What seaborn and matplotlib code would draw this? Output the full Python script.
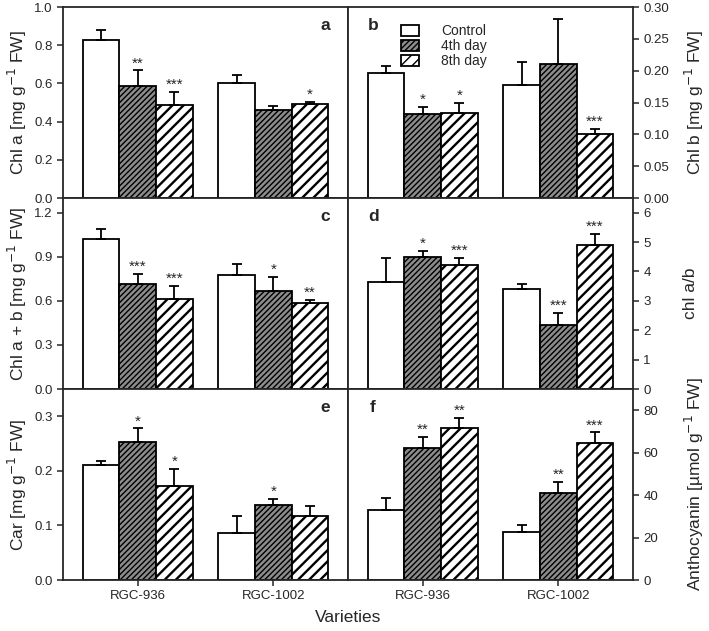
import pandas as pd
import seaborn as sns
import numpy as np
import matplotlib
matplotlib.use("Agg")
import matplotlib.pylab as plt

## Data (order: RGC-936 C/4/8, RGC-1002 C/4/8)
varieties = ["RGC-936", "RGC-1002"]
treatments = ["Control", "4th day", "8th day"]

chl_a_mean = [0.826, 0.589, 0.485, 0.603, 0.461, 0.490]
chl_a_err = [0.056, 0.079, 0.070, 0.042, 0.020, 0.014]
chl_a_sig = ["", "**", "***", "", "", "*"]

chl_b_mean = [0.197, 0.1325, 0.134, 0.177, 0.211, 0.1006]
chl_b_err = [0.010, 0.011, 0.015, 0.036, 0.070, 0.0075]
chl_b_sig = ["", "*", "*", "", "", "***"]

chl_ab_mean = [1.020, 0.716, 0.611, 0.777, 0.668, 0.586]
chl_ab_err = [0.066, 0.070, 0.093, 0.073, 0.093, 0.023]
chl_ab_sig = ["", "***", "***", "", "*", "**"]

ratio_mean = [3.64, 4.48, 4.23, 3.42, 2.18, 4.91]
ratio_err = [0.81, 0.22, 0.22, 0.17, 0.41, 0.38]
ratio_sig = ["", "*", "***", "", "***", "***"]

car_mean = [0.210, 0.252, 0.172, 0.086, 0.138, 0.118]
car_err = [0.008, 0.026, 0.032, 0.032, 0.010, 0.017]
car_sig = ["", "*", "*", "", "*", ""]

anth_mean = [32.9, 62.1, 71.5, 22.7, 40.9, 64.5]
anth_err = [5.7, 5.3, 5.0, 3.0, 5.4, 5.1]
anth_sig = ["", "**", "**", "", "**", "***"]

panels = [
    ("a", chl_a_mean, chl_a_err, chl_a_sig, "Chl a [mg g$^{-1}$ FW]", 1.0, np.arange(0, 1.01, 0.2), "{:.1f}"),
    ("b", chl_b_mean, chl_b_err, chl_b_sig, "Chl b [mg g$^{-1}$ FW]", 0.30, np.arange(0, 0.301, 0.05), "{:.2f}"),
    ("c", chl_ab_mean, chl_ab_err, chl_ab_sig, "Chl a + b [mg g$^{-1}$ FW]", 1.3, np.arange(0, 1.21, 0.3), "{:.1f}"),
    ("d", ratio_mean, ratio_err, ratio_sig, "chl a/b", 6.5, np.arange(0, 7, 1), "{:.0f}"),
    ("e", car_mean, car_err, car_sig, "Car [mg g$^{-1}$ FW]", 0.35, np.arange(0, 0.31, 0.1), "{:.1f}"),
    ("f", anth_mean, anth_err, anth_sig, "Anthocyanin [µmol g$^{-1}$ FW]", 90, np.arange(0, 81, 20), "{:.0f}"),
]

sns.set_theme(style="ticks")
plt.rcParams['font.family'] = ['Liberation Sans', 'DejaVu Sans']
plt.rcParams['hatch.linewidth'] = 1.0
plt.rcParams['axes.linewidth'] = 1.3

fig, axes = plt.subplots(3, 2, figsize=(7.09, 6.31), dpi=100)
fig.subplots_adjust(left=0.0889, right=0.8928, top=0.9889, bottom=0.0808, wspace=0, hspace=0)

face = ["white", "#8c8c8c", "white"]
hatch = [None, "//////", "///"]
hatch_lw = [1.0, 1.0, 1.7]

for k, (letter, mean, err, sig, ylab, ytop, yt, fmt) in enumerate(panels):
    ax = axes.flat[k]
    right = (k % 2 == 1)
    df = pd.DataFrame({
        'Variety': np.repeat(varieties, 3),
        'Treatment': treatments * 2,
        'Value': mean,
    })
    sns.barplot(data=df, x='Variety', y='Value', hue='Treatment', order=varieties,
                hue_order=treatments, errorbar=None, width=0.81, gap=0,
                edgecolor='black', linewidth=1.3, legend=False, ax=ax)

    bars = list(ax.containers)
    for i, cont in enumerate(bars):
        for j, p in enumerate(cont.patches):
            p.set_facecolor(face[i])
            p.set_edgecolor('black')
            if hatch[i]:
                p.set_hatch(hatch[i])
                if hasattr(p, 'set_hatch_linewidth'):
                    p.set_hatch_linewidth(hatch_lw[i])
            idx = j * 3 + i
            xc = p.get_x() + p.get_width() / 2
            h = p.get_height()
            ax.errorbar(xc, h, yerr=[[0], [err[idx]]], fmt='none', ecolor='black',
                        elinewidth=1.3, capsize=3.5, capthick=1.3, zorder=1)
            if sig[idx]:
                ax.annotate(sig[idx], (xc, h + err[idx]), xytext=(0, 0),
                            textcoords='offset points', ha='center', va='bottom',
                            fontsize=11)

    ax.set_xlim(-0.55, 1.55)
    ax.set_ylim(0, ytop)
    ax.set_yticks(yt)
    ax.set_yticklabels([fmt.format(v) for v in yt], fontsize=9.5)
    ax.set_xlabel("")
    ax.tick_params(axis='y', direction='out', length=4, width=1.1)
    if right:
        ax.yaxis.tick_right()
        ax.yaxis.set_label_position("right")
        ax.set_ylabel(ylab, fontsize=12.5)
        ax.yaxis.set_label_coords(1.175, 0.5)
        ax.text(0.088, 0.905, letter, transform=ax.transAxes, fontsize=12.5,
                fontweight='bold', ha='center', va='center')
    else:
        ax.set_ylabel(ylab, fontsize=12.5, labelpad=4)
        ax.text(0.92, 0.905, letter, transform=ax.transAxes, fontsize=12.5,
                fontweight='bold', ha='center', va='center')
    if k >= 4:
        ax.set_xticks([0, 1])
        ax.set_xticklabels(varieties, fontsize=9.5)
        ax.tick_params(axis='x', direction='out', length=4, width=1.1)
    else:
        ax.set_xticks([])
    for s in ax.spines.values():
        s.set_visible(True)
        s.set_linewidth(1.3)

    if letter == "b":
        handles = [c.patches[0] for c in bars]
        ax.legend(handles, treatments, loc='upper left', bbox_to_anchor=(0.185, 0.91),
                  frameon=False, fontsize=10, handlelength=1.3, handleheight=0.9,
                  handletextpad=1.6, labelspacing=0.08, borderaxespad=0, borderpad=0)

fig.text(0.491, 0.022, "Varieties", ha='center', va='center', fontsize=12.5)

plt.savefig("out.png", dpi=100)
